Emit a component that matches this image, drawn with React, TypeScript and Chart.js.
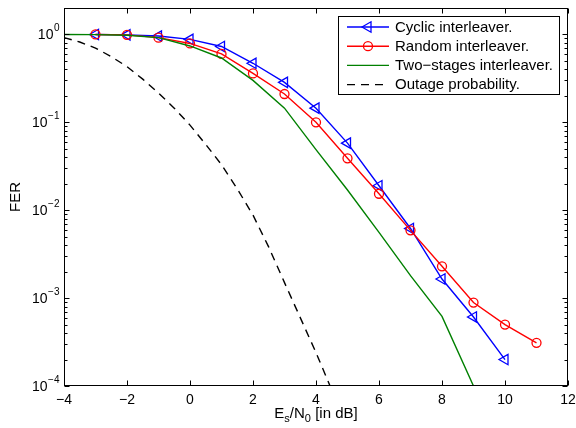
import React, { useEffect, useRef } from 'react';
import { Chart, registerables } from 'chart.js';

Chart.register(...registerables);

// ---------- data ----------
const snrCyclic = [-3, -2, -1, 0, 1, 2, 3, 4, 5, 6, 7, 8, 9, 10];
const ferCyclic = [1.0, 0.99, 0.96, 0.88, 0.73, 0.47, 0.285, 0.145, 0.058, 0.019, 0.0062, 0.00165, 0.00061, 0.0002];

const snrRandom = [-3, -2, -1, 0, 1, 2, 3, 4, 5, 6, 7, 8, 9, 10, 11];
const ferRandom = [1.0, 0.99, 0.92, 0.79, 0.6, 0.36, 0.21, 0.1, 0.039, 0.0154, 0.0059, 0.0023, 0.00089, 0.0005, 0.00031];

const snrTwoStage = [-4, -3, -2, -1, 0, 1, 2, 3, 4, 5, 6, 7, 8, 9];
const ferTwoStage = [1.0, 0.995, 0.98, 0.92, 0.74, 0.54, 0.3, 0.145, 0.049, 0.017, 0.0056, 0.0018, 0.00062, 0.0001];

const snrOutage = [-4, -3.5, -3, -2.5, -2, -1.5, -1, -0.5, 0, 0.5, 1, 1.5, 2, 2.5, 3, 3.5, 4, 4.5];
const ferOutage = [0.92, 0.82, 0.7, 0.56, 0.43, 0.31, 0.215, 0.145, 0.093, 0.056, 0.033, 0.0175, 0.0088, 0.0038, 0.0015, 0.0006, 0.00024, 0.00009];

const seriesLabels = ['Cyclic interleaver.', 'Random interleaver.', 'Two\u2212stages interleaver.', 'Outage probability.'];

const xTicks = [-4, -2, 0, 2, 4, 6, 8, 10, 12];
const xTickLabels = ['\u22124', '\u22122', '0', '2', '4', '6', '8', '10', '12'];
const yTickExponents = [0, -1, -2, -3, -4];
const yTickExpLabels = ['0', '\u22121', '\u22122', '\u22123', '\u22124'];

const X_MIN = -4;
const X_MAX = 12;
const Y_MIN = 1e-4;
const Y_MAX = 2;

const FONT = '"Liberation Sans", Arial, Helvetica, sans-serif';

const toPoints = (xs: number[], ys: number[]) => xs.map((x, i) => ({ x, y: ys[i] }));

function drawMarker(ctx: CanvasRenderingContext2D, style: string, x: number, y: number, r: number) {
  ctx.beginPath();
  if (style === 'circle') {
    ctx.arc(x, y, r, 0, Math.PI * 2);
  } else if (style === 'triangle') {
    let rad = -Math.PI / 2;
    ctx.moveTo(x + Math.sin(rad) * r, y - Math.cos(rad) * r);
    rad += (2 * Math.PI) / 3;
    ctx.lineTo(x + Math.sin(rad) * r, y - Math.cos(rad) * r);
    rad += (2 * Math.PI) / 3;
    ctx.lineTo(x + Math.sin(rad) * r, y - Math.cos(rad) * r);
    ctx.closePath();
  }
  ctx.stroke();
}

const matlabAxes = {
  id: 'matlabAxes',
  afterDatasetsDraw(chart: any) {
    const { ctx, chartArea: a, scales } = chart;
    const xs = scales.x;
    const ys = scales.y;
    const L = Math.round(a.left) + 0.5;
    const R = Math.round(a.right) - 0.5;
    const T = Math.round(a.top) + 0.5;
    const B = Math.round(a.bottom) - 0.5;
    ctx.save();
    ctx.strokeStyle = '#000';
    ctx.lineWidth = 1;
    ctx.setLineDash([]);
    ctx.strokeRect(L, T, R - L, B - T);

    ctx.beginPath();
    for (const v of xTicks) {
      const px = Math.round(xs.getPixelForValue(v)) + 0.5;
      ctx.moveTo(px, B);
      ctx.lineTo(px, B - 5);
      ctx.moveTo(px, T);
      ctx.lineTo(px, T + 5);
    }
    for (const e of yTickExponents) {
      const py = Math.round(ys.getPixelForValue(Math.pow(10, e))) + 0.5;
      ctx.moveTo(L, py);
      ctx.lineTo(L + 5, py);
      ctx.moveTo(R, py);
      ctx.lineTo(R - 5, py);
    }
    for (let e = -4; e <= 0; e++) {
      for (let m = 2; m <= 9; m++) {
        const v = m * Math.pow(10, e);
        if (v > Y_MAX) continue;
        const py = Math.round(ys.getPixelForValue(v)) + 0.5;
        ctx.moveTo(L, py);
        ctx.lineTo(L + 3, py);
        ctx.moveTo(R, py);
        ctx.lineTo(R - 3, py);
      }
    }
    ctx.stroke();

    ctx.fillStyle = '#000';
    ctx.font = `14px ${FONT}`;
    ctx.textAlign = 'center';
    ctx.textBaseline = 'alphabetic';
    xTicks.forEach((v, i) => {
      ctx.fillText(xTickLabels[i], xs.getPixelForValue(v), B + 18);
    });

    yTickExponents.forEach((e, i) => {
      const py = ys.getPixelForValue(Math.pow(10, e));
      ctx.font = `10px ${FONT}`;
      const ew = ctx.measureText(yTickExpLabels[i]).width;
      const right = L - 5;
      ctx.textAlign = 'right';
      ctx.fillText(yTickExpLabels[i], right, py - 3);
      ctx.font = `14px ${FONT}`;
      ctx.fillText('10', right - ew - 0.5, py + 5);
    });

    ctx.save();
    ctx.translate(20, (T + B) / 2);
    ctx.rotate(-Math.PI / 2);
    ctx.textAlign = 'center';
    ctx.font = `15px ${FONT}`;
    ctx.fillText('FER', 0, 0);
    ctx.restore();

    const parts: [string, boolean][] = [['E', false], ['s', true], ['/N', false], ['0', true], [' [in dB]', false]];
    let total = 0;
    const widths = parts.map(([t, sub]) => {
      ctx.font = `${sub ? 11 : 15}px ${FONT}`;
      const w = ctx.measureText(t).width;
      total += w;
      return w;
    });
    let cx = (L + R) / 2 - total / 2;
    const baseY = B + 32;
    ctx.textAlign = 'left';
    parts.forEach(([t, sub], i) => {
      ctx.font = `${sub ? 11 : 15}px ${FONT}`;
      ctx.fillText(t, cx, sub ? baseY + 4 : baseY);
      cx += widths[i];
    });

    const lx = 338.5, ly = 16.5, lw = 221, lh = 78;
    ctx.fillStyle = '#fff';
    ctx.fillRect(lx, ly, lw, lh);
    ctx.strokeStyle = '#000';
    ctx.lineWidth = 1;
    ctx.strokeRect(lx, ly, lw, lh);
    chart.data.datasets.forEach((ds: any, i: number) => {
      const ry = 27 + i * 19.2;
      ctx.strokeStyle = ds.borderColor;
      ctx.lineWidth = ds.borderWidth;
      ctx.setLineDash(ds.borderDash || []);
      ctx.beginPath();
      ctx.moveTo(347, ry);
      ctx.lineTo(389, ry);
      ctx.stroke();
      ctx.setLineDash([]);
      if (ds.pointRadius > 0) {
        ctx.lineWidth = ds.pointBorderWidth;
        drawMarker(ctx, ds.pointStyle, 368, ry, ds.pointRadius);
      }
      ctx.fillStyle = '#000';
      ctx.font = `15px ${FONT}`;
      ctx.textAlign = 'left';
      ctx.textBaseline = 'middle';
      ctx.fillText(ds.label, 395, ry + 0.5);
    });
    ctx.restore();
  },
};

export default function App() {
  const canvasRef = useRef<HTMLCanvasElement | null>(null);

  useEffect(() => {
    if (!canvasRef.current) return;
    const chart = new Chart(canvasRef.current, {
      type: 'line',
      data: {
        datasets: [
          {
            label: seriesLabels[0],
            data: toPoints(snrCyclic, ferCyclic),
            borderColor: '#0000ff',
            borderWidth: 1.4,
            pointStyle: 'triangle',
            rotation: -90,
            pointRadius: 6,
            pointBorderWidth: 1.3,
            pointBorderColor: '#0000ff',
            pointBackgroundColor: 'rgba(0,0,0,0)',
            order: 3,
          },
          {
            label: seriesLabels[1],
            data: toPoints(snrRandom, ferRandom),
            borderColor: '#ff0000',
            borderWidth: 1.4,
            pointStyle: 'circle',
            pointRadius: 4.5,
            pointBorderWidth: 1.3,
            pointBorderColor: '#ff0000',
            pointBackgroundColor: 'rgba(0,0,0,0)',
            order: 2,
          },
          {
            label: seriesLabels[2],
            data: toPoints(snrTwoStage, ferTwoStage),
            borderColor: '#008000',
            borderWidth: 1.4,
            pointRadius: 0,
            order: 1,
          },
          {
            label: seriesLabels[3],
            data: toPoints(snrOutage, ferOutage),
            borderColor: '#000000',
            borderWidth: 1.4,
            borderDash: [8, 6],
            pointRadius: 0,
            order: 0,
          },
        ] as any,
      },
      options: {
        responsive: false,
        animation: false,
        layout: { padding: { left: 64, right: 8, top: 8, bottom: 42 } },
        elements: { line: { tension: 0 } },
        scales: {
          x: { type: 'linear', min: X_MIN, max: X_MAX, display: false },
          y: { type: 'logarithmic', min: Y_MIN, max: Y_MAX, display: false },
        },
        plugins: {
          legend: { display: false },
          tooltip: { enabled: false },
        },
      },
      plugins: [matlabAxes],
    });
    return () => chart.destroy();
  }, []);

  return (
    <div style={{ position: 'fixed', left: 0, top: 0, width: 576, height: 428, background: '#fff' }}>
      <canvas ref={canvasRef} width={576} height={428} />
    </div>
  );
}
